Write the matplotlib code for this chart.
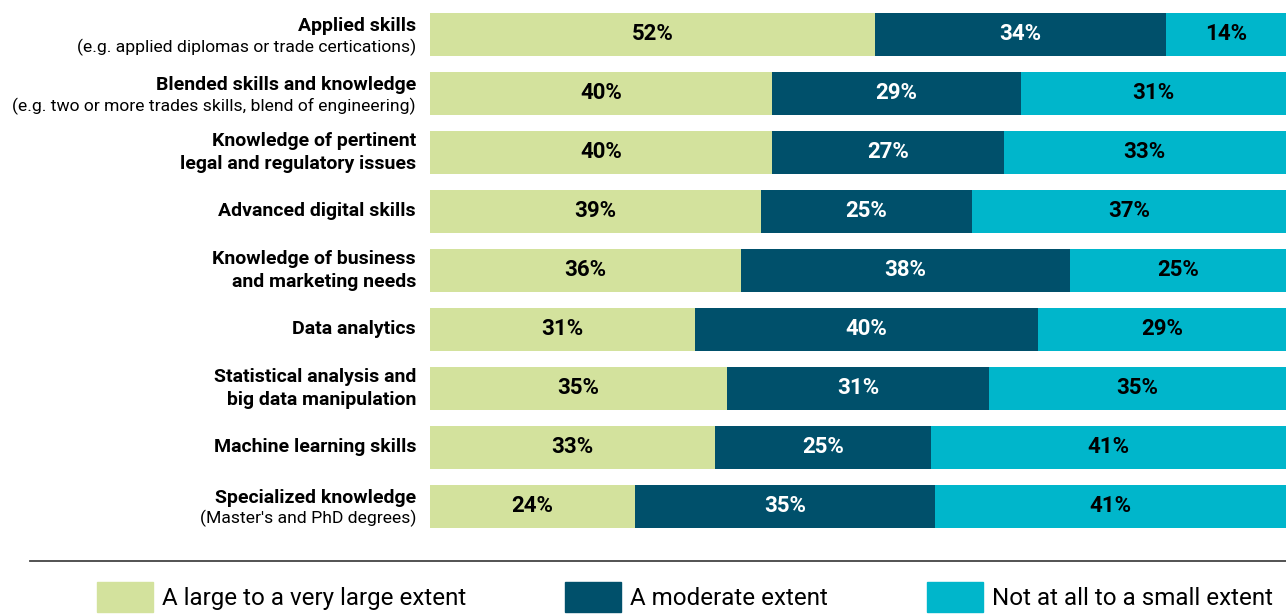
import matplotlib.pyplot as plt
import numpy as np
from matplotlib.lines import Line2D
from matplotlib.patches import Patch

# categories: (bold title, optional subtitle)
titles = [
    "Applied skills",
    "Blended skills and knowledge",
    "Knowledge of pertinent\nlegal and regulatory issues",
    "Advanced digital skills",
    "Knowledge of business\nand marketing needs",
    "Data analytics",
    "Statistical analysis and\nbig data manipulation",
    "Machine learning skills",
    "Specialized knowledge",
]
subtitles = [
    "(e.g. applied diplomas or trade certications)",
    "(e.g. two or more trades skills, blend of engineering)",
    None, None, None, None, None, None,
    "(Master's and PhD degrees)",
]

large = [52, 40, 40, 39, 36, 31, 35, 33, 24]
moderate = [34, 29, 27, 25, 38, 40, 31, 25, 35]
small = [14, 31, 33, 37, 25, 29, 35, 41, 41]

series_names = ["A large to a very large extent", "A moderate extent",
                "Not at all to a small extent"]
colors = ["#d3e29d", "#00506b", "#00b6cb"]
text_colors = ["black", "white", "black"]

plt.rcParams['font.family'] = ['Roboto', 'DejaVu Sans']

fig = plt.figure(figsize=(12.86, 6.14), dpi=100)
ax = fig.add_axes([430 / 1286, 1 - 535.5 / 614, 1 - 430 / 1286, (535.5 - 5) / 614])

data = np.array([large, moderate, small], dtype=float)
totals = data.sum(axis=0)
shares = data / totals * 100
y = np.arange(len(titles))

left = np.zeros(len(titles))
for i in range(3):
    ax.barh(y, shares[i], left=left, height=0.73, color=colors[i])
    for j in range(len(titles)):
        ax.text(left[j] + shares[i][j] / 2, y[j], f"{int(data[i][j])}%",
                ha='center', va='center', fontsize=16, fontweight='bold',
                color=text_colors[i])
    left += shares[i]

ax.set_xlim(0, 100)
ax.set_ylim(len(titles) - 0.5, -0.5)
ax.axis('off')

# category labels
for j in range(len(titles)):
    if subtitles[j]:
        ax.annotate(titles[j], (0, y[j]), xytext=(-10, 6), textcoords='offset points',
                    ha='right', va='center', fontsize=14, fontweight='bold')
        ax.annotate(subtitles[j], (0, y[j]), xytext=(-10, -9), textcoords='offset points',
                    ha='right', va='center', fontsize=12.6)
    else:
        ax.annotate(titles[j], (0, y[j]), xytext=(-10, 0), textcoords='offset points',
                    ha='right', va='center', fontsize=14, fontweight='bold',
                    linespacing=1.35)

# separator line
fig.add_artist(Line2D([30 / 1286, 1], [1 - 561 / 614] * 2, color='#444444', lw=1.3))

handles = [Patch(color=c) for c in colors]
fig.legend(handles, series_names, loc='upper left', bbox_to_anchor=(97 / 1286, 1 - 582 / 614),
           ncol=3, frameon=False, fontsize=17.4, handlelength=2.32, handleheight=1.55,
           handletextpad=0.37, columnspacing=4.1, borderpad=0, borderaxespad=0)

fig.savefig("out.png", dpi=100)
